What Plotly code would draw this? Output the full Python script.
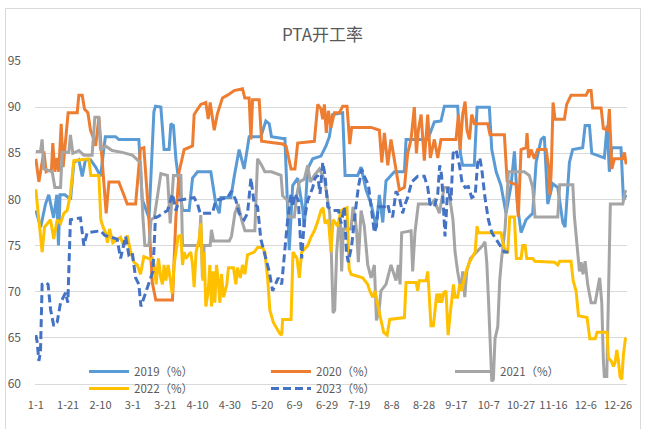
import plotly.graph_objects as go

tick_days = [0, 20, 40, 60, 80, 100, 120, 140, 160, 180, 200, 220, 240, 260, 280, 300, 320, 340, 360]
tick_labels = ["1-1", "1-21", "2-10", "3-1", "3-21", "4-10", "4-30", "5-20", "6-9", "6-29",
               "7-19", "8-8", "8-28", "9-17", "10-7", "10-27", "11-16", "12-6", "12-26"]
y_ticks = [60, 65, 70, 75, 80, 85, 90, 95]

series_names = ["2019（%）", "2020（%）", "2021（%）", "2022（%）", "2023（%）"]

days_2019 = [0,3,6,8,11,13,14,15,18,21.5,23.5,26.6,28.7,30.7,33.8,37,40,43,49.3,51.3,63.7,65.8,70,73,74,77.3,79.3,82.4,83.5,85.1,86.6,90.7,94.8,96.9,100,108.2,111.3,113.4,114.4,120.6,122.7,125.7,128.8,131.9,139.1,142.2,144.3,145.7,152.6,154,156.7,158.8,161.9,165,166,168,171.2,176.3,179.4,181.5,183.5,189.7,191.2,199,201.1,204.2,207.3,210.4,212.4,214.5,216.5,221.7,227.9,228.9,242.3,246.4,250.5,252.6,260.8,262.5,263.9,271.1,272.8,280.4,281.9,284.6,287.6,290.7,293.8,295.9,297.9,300,303.1,307.2,309.3,312.4,314.4,316.5,319.6,322.7,325.8,327.2,329.9,331.9,338.1,339.6,342.3,343.7,351.5,353.2,354.6,356.1,361.8,363.3,365]
rate_2019 = [78.8,77,79.5,80.5,78,80.5,75,80.5,80.5,80,84,84.3,82.5,84.3,84.3,83.5,82.5,86.8,86.8,86.5,86.5,80,78,89.5,90.1,90,85.4,85.4,88.2,88,84.4,78.8,78.8,82.3,83,83,79.5,78.5,80.2,80.2,82.5,85.4,83.3,86.8,86.8,88.5,88.2,86.8,86.6,86.6,74.5,81.5,82.3,79,77,83.3,84.4,84.7,85.8,86.8,89.2,89.4,82.6,82.6,83.5,81,79.5,77,80.5,77.5,82,83,83,86.5,86.5,88.4,88.5,90.1,90.1,85,83.7,83.7,90,90,85.4,83,81.5,78.5,81.5,85.2,79.2,76.4,77.8,78.5,84,86.5,86.8,79.5,81.7,81.3,77.5,77,84,85.4,85.6,88,88,85,84.5,88,83,85.6,85.6,79.9,80.5]

days_2020 = [0,1.9,5,6.4,9.7,10.5,11.8,13.2,14.2,15.7,16.9,20,25.6,26.6,28.7,30.1,32.2,33.8,35.3,37,39,41.4,43.5,45.2,51.3,54.4,56.5,61.7,64.7,66.8,69.9,72,74.2,84.5,86.6,88.6,91.7,96.9,97.9,102,105.1,106.6,107.8,110.3,112.3,115.4,118.5,122.7,127.8,129.2,131.9,133,134,138.1,139.6,152.6,154.7,157.8,160.2,161.9,172.2,174.3,176.3,177.4,178.4,179.6,180.9,182.5,184.6,187.7,189.7,192.4,194.1,195.3,207.3,212.4,213.9,215.5,217.6,219.6,222.7,224.8,227.9,229.9,232,234,235.3,236.5,238.2,240.2,242.3,243.9,246.4,248.5,250.5,259.8,261.3,262.3,263.9,265.4,266.6,268.1,269.5,271.2,279.4,280.8,289.7,291.4,296.9,298.3,300,303.1,303.7,304.7,306.2,308.2,310.3,315.5,316.9,317.9,318.7,319.8,321,326.8,328.2,330.9,340.2,341.6,343.3,344.3,349.5,350.9,353.6,354.6,356.1,357.7,362.9,363.9,365]
rate_2020 = [84.4,81.9,85.2,83,83.3,86.1,83,84.5,83,88.2,83.5,89.4,89.4,91.3,91.3,89.8,89.4,87.5,86.8,85.8,88.9,83,78.5,81.9,81.9,80.5,79.5,79.5,85.5,85.6,78,71,69.1,69.1,78,83,85.4,85.8,89.2,90.3,90.5,88.7,90.5,87.5,89.3,91,91.3,91.8,92,91,91,86.5,90.8,90.8,86.3,86,85.8,83.3,83.3,86.1,86.3,90.3,89.8,88.7,90.3,87.2,89.6,87.8,89.4,89.4,90.1,90.1,86,87.8,87.8,87.5,84,87.2,83.7,86.5,83.3,81,81.3,85,86.5,90,85,87.5,89.2,84.2,89.2,84.5,86.5,84.5,86.5,86.5,89.2,85.4,89.2,90.6,87.5,86.5,89.2,88.2,88.2,87,87,82,81.6,78.1,85.4,85.6,87.2,84.5,85.4,84.4,85.4,85.4,83.7,80.5,83.3,90.5,88.7,88.7,90.3,91.3,91.3,91.8,91.8,89.9,89.9,87.7,87.5,89.8,83.3,84.4,84.4,85.1,83.8]

days_2021 = [0,2.9,3.9,5,10.1,11.8,15.3,16.3,20.4,21.4,22.9,26.6,29.7,34.8,36.5,39,40,43.1,47.2,53.4,59.6,62.7,64.7,66.2,67.4,69.9,71.3,73.2,77.3,81.4,83.1,85.1,89.7,90.7,101,102,103,104.1,107.8,108.6,109.9,119.6,121,123.1,125.1,127.2,129.3,135.4,137.1,139.6,141.6,145.7,151.6,152.6,155.7,156.7,159.8,161.5,162.9,166,168.1,169.7,172.2,175.3,178.4,180.5,181.7,182.7,183.8,184.8,186,187.3,188.3,189.1,190.1,194.9,196.1,197.4,198.4,199.4,201.1,203.1,205.2,207.3,209.3,210.6,212.2,213.4,216.5,219.6,222.7,224.1,225.2,226.2,232,233,234.4,236.5,244.3,246.4,249.5,250.9,252.6,255,256.7,257.9,259.2,260.8,262.9,263.9,265.2,266.4,268.7,272.8,276.3,277.7,278.8,279.8,280.8,281.9,282.9,283.9,285.6,286.8,288,290.1,292.2,302,305.1,307.2,308.6,322.7,323.9,332,333,334.6,336.1,337.1,338.3,339.6,341.2,343.3,345.8,348.6,349.9,350.9,351.5,353,354,355.2,362.9,364.3,365]
rate_2021 = [85.2,85.2,86.5,83.3,83,81.3,81.3,85.1,85.1,87,85,85.3,84.8,84.8,88.9,88.9,85.3,85.8,85.3,85.1,84.8,84.3,84,78.1,75,75,77.8,78,82.8,82.6,77.4,82.6,82.6,75,75,78.3,71.5,75,75,76.7,75.5,75.5,76,78.5,79.5,77.8,76.6,76.6,84.4,83.7,83,83,82.6,80.4,79.9,78.1,78.1,80.6,81.9,82.2,83.7,81.9,82.6,83.3,82.2,79.9,78.5,74.3,67.7,68,74.3,77.4,77.4,72.2,76.8,76.8,79.2,78.1,76.4,73.2,78.8,77.1,72.9,71.5,72.9,66.9,67.9,70.1,70.8,72.9,71.2,72.9,70.8,76.4,76.6,72.2,76.4,79.5,79.5,79.9,78.5,79.9,81.3,81.3,79.5,77.8,74.3,72.2,70.1,72.2,69.4,72.2,73.6,74.3,75,75.4,73.2,69.4,64.2,60.3,60.5,64.9,66.2,71.2,73.6,76.8,83,83,82.6,81.3,78.1,78.1,81.6,81.6,78.1,74.7,72.2,73.2,71.9,73.3,70.8,68.8,68.8,71.5,68.8,62.5,60.8,60.8,69.4,79.5,79.5,80.8,81]

days_2022 = [0,1.9,3.9,5.4,7,9.1,11.1,13.2,15.3,17.3,19.4,21.4,23.5,32.8,34,39,40.2,41.4,43.1,44.3,45.6,47.6,52.4,54.4,56.5,58.6,60.6,62.7,64.7,66.8,71,72.1,73.2,74.4,75.8,77.3,78.3,79.3,80.4,81.8,83.1,84.3,85.5,86.8,88,89.7,90.7,91.7,92.8,95.8,96.9,97.9,99.1,101,102,103.3,104.1,105.1,106.6,107.6,108.6,109.7,110.7,111.7,112.8,113.8,114.8,116.1,118.1,119.1,122.2,123.7,124.7,126.4,127.8,129.2,130.9,135,137.1,140.2,141.6,143.3,144.7,146.8,149.1,150.7,152,152.6,157.8,159,161.5,162.9,164.4,168.1,170.1,172.2,174.3,176.3,177.6,178.8,180.9,182.5,183.8,186.6,188.7,192.4,193.7,194.9,202.1,205.2,206.4,208.3,209.7,211.4,212.8,215.1,217.2,218.8,227.9,228.9,235.1,236.1,237.1,241.3,242.3,243.3,244.3,245.8,246.8,247.9,248.9,249.9,250.9,252.2,253.6,254.9,256.1,257.1,258.2,259.2,260.8,262.1,263.3,264.6,266,268.1,270.1,271.6,272.8,273.6,287.6,289.1,290.7,291.8,293,295.9,297.1,300,301,302.5,303.5,307.2,308.6,320.6,322.7,323.9,330.9,332.2,334,335.5,340.8,342.5,345.8,347,353.2,354,355.7,357.1,358.1,359.2,360.2,361.2,362.3,363.3,364.5,365]
rate_2022 = [81.1,77.4,74.3,77,77.4,77.8,75.7,77.8,77.4,78.5,78.8,80.6,84.2,84.4,82.6,82.6,77.8,77.1,76.4,75.3,76.8,75.3,75.9,74.9,76.1,74.4,73.2,72.9,71.9,73.8,73.5,73.6,72.9,70.8,73.6,71.5,70.8,72.9,71.2,72.9,71.4,69.8,72.9,74.3,76,76.1,72.9,74.3,73.6,74.3,72.9,70.5,74.3,75.7,77.4,71.2,74.3,68.4,70.1,72.9,68.4,72.2,68.8,72.9,71.2,68.8,71.9,69.4,70.8,72.6,72.6,70.8,72.6,71.5,72.9,71.9,74,74.3,74.8,74.8,74.3,71.5,68,66.7,66,65.5,65.3,67,67,74.3,73.6,71.5,74.3,75,75.9,76.6,77.6,78.8,79.1,77.4,77.8,74.3,77.8,77.1,78.8,79.1,72.5,71.9,71.5,70.8,70.1,69.4,70.1,68.8,67.4,65.6,65.3,67,67.2,71,71,70.1,71.2,71.2,72.2,69.4,66.3,66.3,68.1,69.8,68.8,69.8,68.8,69.9,70.1,65.3,67.4,69.4,70.8,69.4,69.4,70.8,70.1,71.2,72.2,73.2,73.8,74.3,77.1,76.4,76.4,75,74.3,74.3,78.1,78.1,73.6,73.6,75,75,73.6,73.6,73.3,73.2,72.9,73.3,73.3,71.2,70.1,67.4,67.2,64.9,64.9,65.6,65.6,62.8,62.5,61.9,62.3,63.7,62.5,60.8,60.5,63.2,64.9,65]

days_2023 = [0,0.8,1.9,2.9,3.9,6.4,7.6,9.1,11.1,13.2,15.3,18.4,19.8,21.4,27.6,29.7,31.8,40,42.7,50.3,52.4,55.5,57.5,59.6,61.7,63.7,65,67.8,70.3,72.4,74,75.2,81.4,84.5,86.6,88.6,97.9,100,101.6,109.2,111.3,118.5,121,123.7,125.7,128.8,130.9,133,135,137.1,139.1,141.2,144.3,146.4,148.4,149.9,152,153.6,155.7,157.8,158.8,160.2,162.3,163.5,164.4,166,168.1,171.2,172.6,174.3,175.7,177.4,178.8,180.5,183.5,187.1,188.7,190.8,192,193.2,195.3,197.4,199.4,201.5,203.6,205.6,207.3,209.3,210.6,211.8,215.5,217.6,218.8,220.6,222.7,224.8,226.8,228.3,229.9,232.4,236.1,240.2,242.3,243.7,246.4,248.5,249.7,250.9,252,253,254.7,256.7,258,259.8,261.9,263.5,265.4,267.4,269.5,271.6,273.2,274.5,275.7,277.7,279.8,281.9,285.6,289.7,292.2]
rate_2023 = [65.3,64.6,62.5,63.5,70.8,71,70.8,68.1,66.3,66.7,68.8,69.9,68.8,77.8,78,75,76.4,76.6,76.1,75.7,73.6,76,74,74.3,71.5,70.8,68.4,69.8,71.2,72.2,78.1,78.1,78.8,80.6,78.8,79.9,80.2,79.5,78.5,78.5,79.9,80.2,80.9,79.9,78.5,77.8,78.5,82.3,79.5,79.2,75.7,74.3,72.2,70.1,70.8,71.5,70.8,73.6,77.8,80.6,79.2,80.6,79.9,76,73.6,77.8,79.9,81.3,82.3,82.6,80.6,84,82.6,79.2,78.8,78.8,77.4,79.2,74.3,73.2,75,78.5,81.3,83.3,82.3,81.6,79.2,76.4,77.1,79.2,79.2,79.5,78.5,78.1,80.9,80.2,78.5,79.5,80.2,81.9,82.5,82.5,81.3,79.5,79.2,80.6,83.7,82.6,79.2,76,81.3,79.9,85,85.4,83.7,81.9,81.3,81.4,80.2,80.4,84,84.5,83.3,80.2,77.8,76.4,75.4,74.3,74.3]

all_days = [days_2019, days_2020, days_2021, days_2022, days_2023]
all_rates = [rate_2019, rate_2020, rate_2021, rate_2022, rate_2023]
colors = ["#5B9BD5", "#ED7D31", "#A5A5A5", "#FFC000", "#4472C4"]
dashes = ["solid", "solid", "solid", "solid", "8px,4px"]
legend_ids = ["legend", "legend2", "legend3", "legend4", "legend5"]
# legend anchor positions in pixels (left, top)
legend_px = [(84, 357), (266, 357), (450, 357), (84, 374), (266, 374)]

W, H = 645, 429
ml, mr, mt, mb = 35, 18, 61, 45
pw, ph = W - ml - mr, H - mt - mb

def px_x(p):
    return (p - ml) / pw

def px_y(p):
    return (H - mb - p) / ph

fig = go.Figure()
for name, d, r, c, ds, lg in zip(series_names, all_days, all_rates, colors, dashes, legend_ids):
    fig.add_trace(go.Scatter(x=d, y=r, mode="lines", name=name, legend=lg,
                             line=dict(color=c, width=3, dash=ds)))

legend_layout = {}
for lg, (lx, ly) in zip(legend_ids, legend_px):
    legend_layout[lg] = dict(orientation="h", x=px_x(lx), y=px_y(ly), xanchor="left", yanchor="top",
                             bgcolor="rgba(0,0,0,0)", itemwidth=40,
                             font=dict(size=11.5, color="#595959", family="Noto Sans CJK SC"))

fig.update_layout(
    width=W, height=H, autosize=False,
    margin=dict(l=ml, r=mr, t=mt, b=mb, autoexpand=False),
    paper_bgcolor="white", plot_bgcolor="white",
    font=dict(family="Noto Sans CJK SC", color="#595959"),
    title=dict(text="PTA开工率", x=0.5, xanchor="center", y=1 - 35 / H, yanchor="middle",
               font=dict(size=17, color="#595959", family="Noto Sans CJK SC")),
    showlegend=True,
    xaxis=dict(range=[-0.5, 365.5], tickmode="array", tickvals=tick_days, ticktext=tick_labels,
               showgrid=False, zeroline=False, showline=True, linecolor="#D9D9D9", linewidth=1,
               ticks="", tickfont=dict(size=11, color="#595959"), ticklabelstandoff=11,
               automargin=False),
    yaxis=dict(range=[60, 95], tickmode="array", tickvals=y_ticks, showgrid=True,
               gridcolor="#D9D9D9", gridwidth=1, zeroline=False, showline=False, ticks="",
               tickfont=dict(size=12, color="#595959"), ticklabelstandoff=13,
               automargin=False),
    shapes=[dict(type="rect", xref="paper", yref="paper",
                 x0=px_x(5.5), x1=px_x(640.5), y0=px_y(432), y1=px_y(8.5),
                 line=dict(color="#D9D9D9", width=1), fillcolor="rgba(0,0,0,0)", layer="below")],
    **legend_layout,
)

fig.write_html("out.html", config={"displayModeBar": False},
               post_script="document.body.style.margin='0px';document.body.style.overflow='hidden';")
